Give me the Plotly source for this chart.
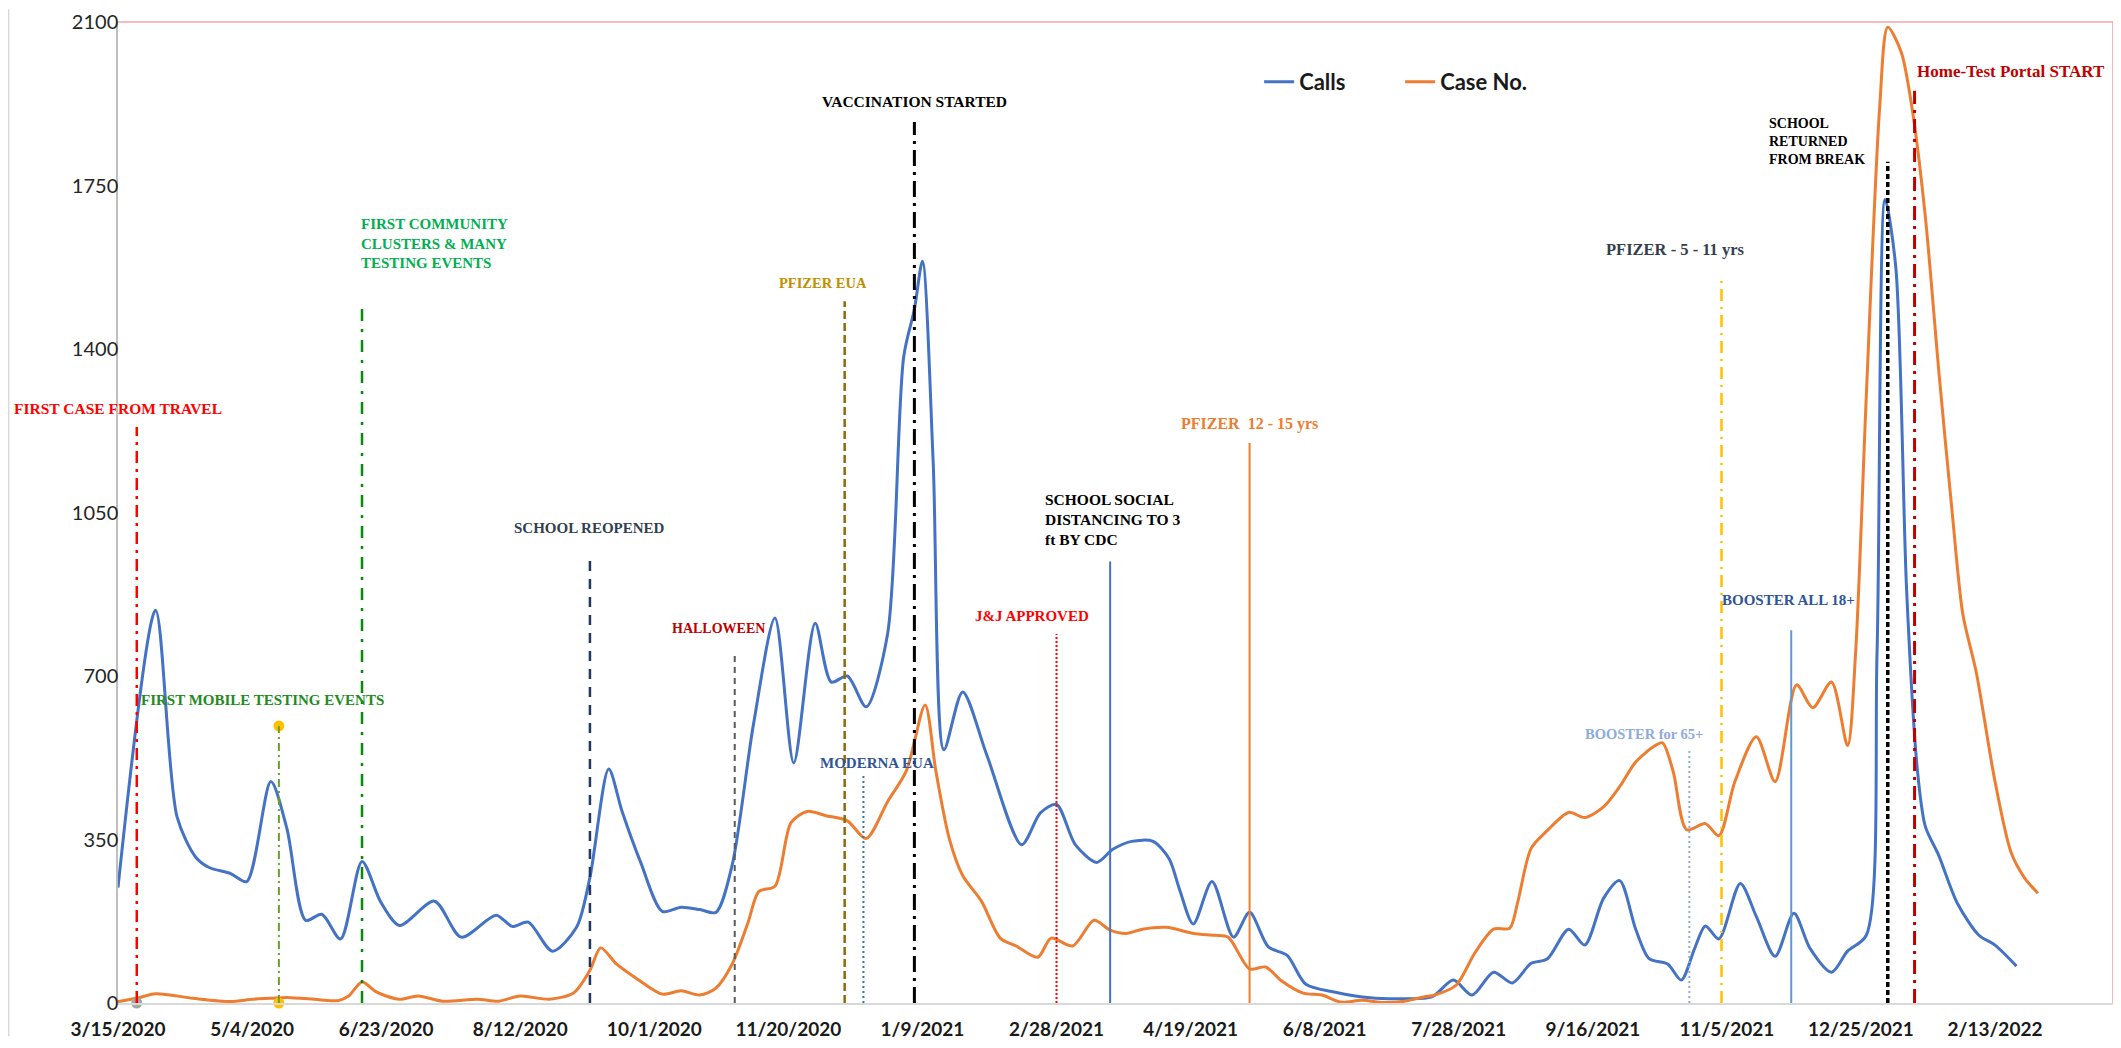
import pandas as pd
import plotly.graph_objects as go

START = pd.Timestamp("2020-03-15")

# Calls, x as days since 3/15/2020
calls_day = [0, 14, 22, 29, 34, 42, 48, 57, 63, 70, 76, 83, 91, 98, 105, 118, 128, 141, 147, 153,
             162, 171, 176, 183, 188, 195, 203, 210, 217, 223, 229, 237, 245, 252, 260, 266, 272, 279, 287, 293,
             297, 300, 304, 308, 315, 324, 337, 344, 350, 357, 365, 371, 378, 386, 392, 396, 401, 408, 416, 422,
             429, 436, 443, 454, 467, 479, 490, 498, 505, 513, 520, 527, 533, 541, 547, 554, 560, 566, 571, 578,
             583, 588, 592, 597, 605, 611, 618, 625, 631, 639, 645, 652, 656, 659, 663, 667, 671, 674, 679, 686,
             694, 700, 708]
calls_val = [247, 841, 399, 312, 290, 277, 260, 474, 373, 177, 190, 137, 303, 216, 166, 218, 141, 188, 164, 173,
             111, 162, 269, 501, 410, 300, 196, 205, 200, 194, 294, 597, 824, 514, 813, 687, 700, 634, 790, 1383,
             1485, 1588, 1159, 542, 666, 531, 339, 407, 425, 339, 301, 329, 346, 346, 309, 241, 169, 260, 141, 194,
             120, 102, 40, 23, 11, 9, 13, 49, 17, 66, 43, 85, 94, 158, 124, 224, 262, 158, 95, 83,
             49, 117, 165, 137, 256, 185, 100, 192, 117, 66, 111, 145, 749, 1720, 1575, 888, 502, 378, 316, 213,
             145, 124, 79]

case_day = [0, 7, 14, 28, 42, 50, 57, 63, 75, 82, 86, 91, 96, 100, 105, 112, 121, 134, 142, 150,
            161, 170, 176, 180, 186, 194, 203, 210, 217, 223, 229, 235, 239, 245, 251, 257, 264, 272, 279, 287,
            294, 301, 305, 310, 315, 322, 329, 335, 343, 348, 356, 364, 370, 376, 382, 391, 401, 409, 414, 422,
            428, 434, 442, 449, 456, 464, 472, 479, 487, 491, 499, 506, 513, 519, 522, 527, 533, 541, 547, 554,
            560, 566, 573, 576, 580, 585, 592, 597, 603, 611, 618, 626, 632, 639, 645, 648, 652, 657, 660, 665,
            669, 674, 679, 684, 688, 693, 700, 706, 711, 716]
case_val = [3, 10, 20, 10, 3, 8, 10, 12, 7, 5, 15, 45, 25, 15, 8, 15, 4, 8, 4, 15,
            8, 22, 70, 118, 83, 50, 19, 26, 17, 32, 83, 173, 239, 250, 386, 410, 401, 390, 352, 431,
            497, 638, 497, 352, 273, 218, 139, 122, 98, 139, 122, 177, 156, 149, 158, 162, 149, 145, 141, 73,
            77, 47, 21, 17, 2, 6, 1, 3, 13, 17, 38, 107, 158, 160, 216, 331, 369, 408, 397, 420,
            463, 516, 550, 557, 495, 371, 384, 358, 474, 570, 474, 681, 632, 687, 551, 749, 1300, 1919, 2089, 2036,
            1918, 1684, 1355, 1052, 832, 708, 474, 322, 268, 235]

tick_labels = ["3/15/2020", "5/4/2020", "6/23/2020", "8/12/2020", "10/1/2020", "11/20/2020", "1/9/2021",
               "2/28/2021", "4/19/2021", "6/8/2021", "7/28/2021", "9/16/2021", "11/5/2021", "12/25/2021",
               "2/13/2022"]
y_ticks = [0, 350, 700, 1050, 1400, 1750, 2100]

# event marker lines: day offset and how high each line reaches
event_day = [7, 60, 91, 176, 230, 271, 278, 297, 350, 370, 422, 586, 598, 624, 660, 670]
event_top = [1233, 593, 1496, 952, 745, 1502, 491, 1886, 790, 945, 1199, 544, 1553, 798, 1801, 1953]

# dots on the first two event lines
dot_day = [7, 60, 60]
dot_val = [0, 0, 593]

label_text = ["FIRST CASE FROM TRAVEL", "FIRST MOBILE TESTING EVENTS",
              "FIRST COMMUNITY<br>CLUSTERS & MANY<br>TESTING EVENTS", "SCHOOL REOPENED", "HALLOWEEN",
              "PFIZER EUA", "MODERNA EUA", "VACCINATION STARTED", "J&J APPROVED",
              "SCHOOL SOCIAL<br>DISTANCING TO 3<br>ft BY CDC", "PFIZER  12 - 15 yrs", "BOOSTER for 65+",
              "PFIZER - 5 - 11 yrs", "BOOSTER ALL 18+", "SCHOOL<br>RETURNED<br>FROM BREAK",
              "Home-Test Portal START"]

# styles (colour, dash, width) per event line
line_style = [
    ("#FF0000", "12px,6px,3px,6px", 2.5),
    ("#6AA121", "8px,4px,2px,4px", 2),
    ("#0A8A0A", "12px,8px,3px,8px", 2.5),
    ("#1F3864", "10px,8px", 2.5),
    ("#595959", "6px,5px", 2),
    ("#8B6B0A", "8px,4px", 2.5),
    ("#2E75B6", "2px,3px", 2),
    ("#000000", "16px,6px,3px,6px", 3),
    ("#FF0000", "2px,2px", 2),
    ("#4472C4", "solid", 2),
    ("#ED7D31", "solid", 2),
    ("#8FAADC", "2px,3px", 2),
    ("#FFC000", "12px,6px,2px,6px", 2.5),
    ("#5B9BD5", "solid", 2),
    ("#000000", "5px,3px", 3.5),
    ("#C00000", "14px,6px,3px,6px", 3),
]

# label placement (day, value, anchor) and style (colour, size)
label_pos = [(0, 1272, "center"), (8, 649, "left"), (90, 1626, "left"), (176, 1016, "center"),
             (224, 802, "center"), (263, 1541, "center"), (283, 514, "center"), (297, 1929, "center"),
             (341, 828, "center"), (345, 1035, "left"), (422, 1240, "center"), (569, 576, "center"),
             (581, 1613, "center"), (623, 862, "center"), (615, 1844, "left"), (706, 1993, "center")]
label_style = [("#FF0000", 15.5), ("#228B22", 15), ("#00B050", 15), ("#333F50", 15), ("#C00000", 14),
               ("#BF9000", 14.5), ("#2F5597", 15), ("#000000", 15.5), ("#FF0000", 15), ("#000000", 15.5),
               ("#ED7D31", 16), ("#8FAADC", 14.5), ("#333F50", 16.5), ("#2F5597", 15), ("#000000", 14),
               ("#C00000", 17)]


def to_date(days):
    return START + pd.to_timedelta(pd.Series(days), unit="D")


fig = go.Figure()

fig.add_trace(go.Scatter(
    x=to_date(calls_day), y=calls_val, name="Calls", mode="lines",
    line=dict(color="#4472C4", width=3, shape="spline", smoothing=0.8),
))
fig.add_trace(go.Scatter(
    x=to_date(case_day), y=case_val, name="Case No.", mode="lines",
    line=dict(color="#ED7D31", width=3, shape="spline", smoothing=0.8),
))

# event lines
for d, top, (col, dash, w) in zip(to_date(event_day), event_top, line_style):
    fig.add_shape(type="line", xref="x", yref="y", x0=d, x1=d, y0=0, y1=top,
                  line=dict(color=col, width=w, dash=dash), layer="above")

fig.add_trace(go.Scatter(
    x=to_date(dot_day), y=dot_val, mode="markers", showlegend=False, cliponaxis=False,
    marker=dict(size=11, color=["#A6A6A6", "#FFC000", "#FFC000"]),
))

for txt, (d, v, anc), (col, size) in zip(label_text, label_pos, label_style):
    fig.add_annotation(
        x=START + pd.Timedelta(days=d), y=v, xref="x", yref="y", text="<b>" + txt + "</b>",
        showarrow=False, xanchor=anc, yanchor="middle", align="left",
        font=dict(family="Liberation Serif", size=size, color=col),
    )

# plot area border: pink top / right; faint chart edge on the left
fig.add_shape(type="line", xref="paper", yref="paper", x0=0, x1=1, y0=1, y1=1,
              line=dict(color="#F5A3A3", width=1.5))
fig.add_shape(type="line", xref="paper", yref="paper", x0=1, x1=1, y0=0, y1=1,
              line=dict(color="#F5A3A3", width=1.5))
fig.add_shape(type="line", xref="paper", yref="paper", x0=-0.0548, x1=-0.0548, y0=-0.034, y1=1.013,
              line=dict(color="#D9D9D9", width=1.5))

tick_dates = pd.to_datetime(tick_labels, format="%m/%d/%Y")

fig.update_layout(
    width=2105, height=1032,
    margin=dict(l=110, r=0, t=14, b=34),
    paper_bgcolor="white", plot_bgcolor="white",
    font=dict(family="Lato", size=18, color="#262626"),
    showlegend=True,
    legend=dict(orientation="h", x=0.572, y=0.939, xanchor="left", yanchor="middle",
                entrywidth=96, entrywidthmode="pixels",
                font=dict(family="Lato", size=22, color="#1A1A1A", weight="bold"),
                bgcolor="rgba(0,0,0,0)"),
    xaxis=dict(
        type="date", range=[START, START + pd.Timedelta(days=744)],
        tickvals=tick_dates, ticktext=tick_labels, showgrid=False, zeroline=False,
        showline=True, linecolor="#D9D9D9", linewidth=2, ticks="", ticklabelstandoff=8,
        tickfont=dict(family="Lato", size=19, color="#1A1A1A", weight="bold"),
    ),
    yaxis=dict(
        range=[0, 2100], tickvals=y_ticks, showgrid=False, zeroline=False,
        showline=True, linecolor="#BFBFBF", linewidth=1.5, ticks="", ticklabelstandoff=-6,
        tickfont=dict(family="Lato", size=20, color="#262626"),
    ),
)

fig.write_html("out.html")
